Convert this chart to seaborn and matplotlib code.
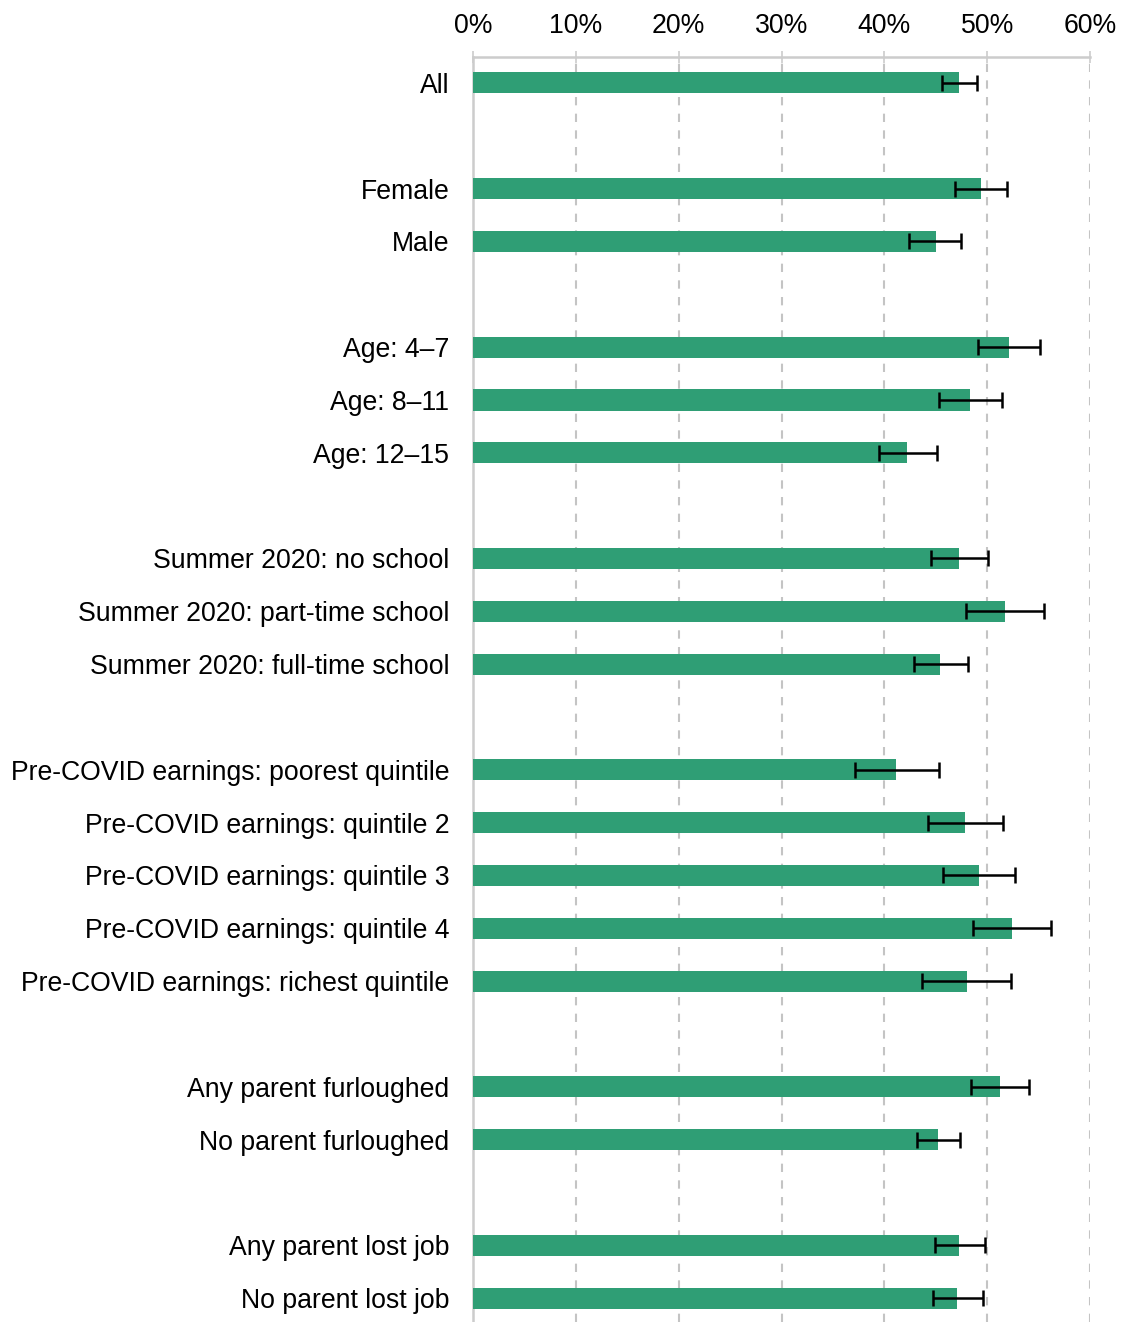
import matplotlib
matplotlib.use("Agg")
import matplotlib.pyplot as plt
import seaborn as sns
import pandas as pd
import numpy as np

labels = [
    "All",
    "Female", "Male",
    "Age: 4\u20137", "Age: 8\u201311", "Age: 12\u201315",
    "Summer 2020: no school", "Summer 2020: part-time school", "Summer 2020: full-time school",
    "Pre-COVID earnings: poorest quintile", "Pre-COVID earnings: quintile 2",
    "Pre-COVID earnings: quintile 3", "Pre-COVID earnings: quintile 4",
    "Pre-COVID earnings: richest quintile",
    "Any parent furloughed", "No parent furloughed",
    "Any parent lost job", "No parent lost job",
]
values = [47.3, 49.4, 45.0, 52.1, 48.3, 42.2, 47.3, 51.7, 45.4,
          41.1, 47.8, 49.2, 52.4, 48.0, 51.2, 45.2, 47.3, 47.1]
ci_low = [45.6, 46.9, 42.4, 49.1, 45.3, 39.5, 44.5, 47.9, 42.9,
          37.1, 44.2, 45.7, 48.6, 43.7, 48.4, 43.2, 44.9, 44.7]
ci_high = [49.0, 51.9, 47.5, 55.1, 51.4, 45.1, 50.1, 55.5, 48.1,
           45.3, 51.5, 52.7, 56.2, 52.3, 54.1, 47.4, 49.8, 49.6]
groups = [[0], [1, 2], [3, 4, 5], [6, 7, 8], [9, 10, 11, 12, 13], [14, 15], [16, 17]]
x_ticks = [0, 10, 20, 30, 40, 50, 60]
x_tick_labels = ["0%", "10%", "20%", "30%", "40%", "50%", "60%"]

# build category order with blank spacer slots between groups
order = []
for gi, g in enumerate(groups):
    if gi > 0:
        order.append(" " * gi)
    for i in g:
        order.append(labels[i])

df = pd.DataFrame({"label": labels, "value": values, "lo": ci_low, "hi": ci_high})

plt.rcParams["font.family"] = ["Liberation Sans", "DejaVu Sans"]
fig = plt.figure(figsize=(11.21, 13.22), dpi=100)
ax = fig.add_axes([473 / 1121, 0.0, (1090 - 473) / 1121, 1 - 57 / 1322])

bar_color = "#2f9e75"
sns.barplot(data=df, x="value", y="label", order=order, color=bar_color,
            width=0.4, errorbar=None, saturation=1, ax=ax, zorder=3)

pos = [order.index(l) for l in df["label"]]
xerr = np.array([df["value"] - df["lo"], df["hi"] - df["value"]])
ax.errorbar(df["value"], pos, xerr=xerr, fmt="none", ecolor="black",
            elinewidth=1.8, capsize=5.5, capthick=1.8, zorder=4)

ax.set_xlim(0, 60)
ax.set_ylim(23.45, -0.49)
ax.set_xticks(x_ticks)
ax.set_xticklabels(x_tick_labels)
ax.xaxis.tick_top()
ax.set_xlabel("")
ax.set_ylabel("")

for s in ["right", "bottom"]:
    ax.spines[s].set_visible(False)
for s in ["top", "left"]:
    ax.spines[s].set_color("#cccccc")
    ax.spines[s].set_linewidth(1.8)

ax.tick_params(axis="x", direction="inout", length=8, width=1.2, color="#cccccc",
               labelsize=19.2, pad=9, labelcolor="black")
ax.tick_params(axis="y", length=0, labelsize=19.2, pad=17, labelcolor="black")

ax.grid(False)
for xt in x_ticks[1:]:
    ax.axvline(xt, color="#c4c4c4", linestyle=(0, (4, 4)), linewidth=1.5, zorder=1)

fig.savefig("out.png", dpi=100, facecolor="white")
